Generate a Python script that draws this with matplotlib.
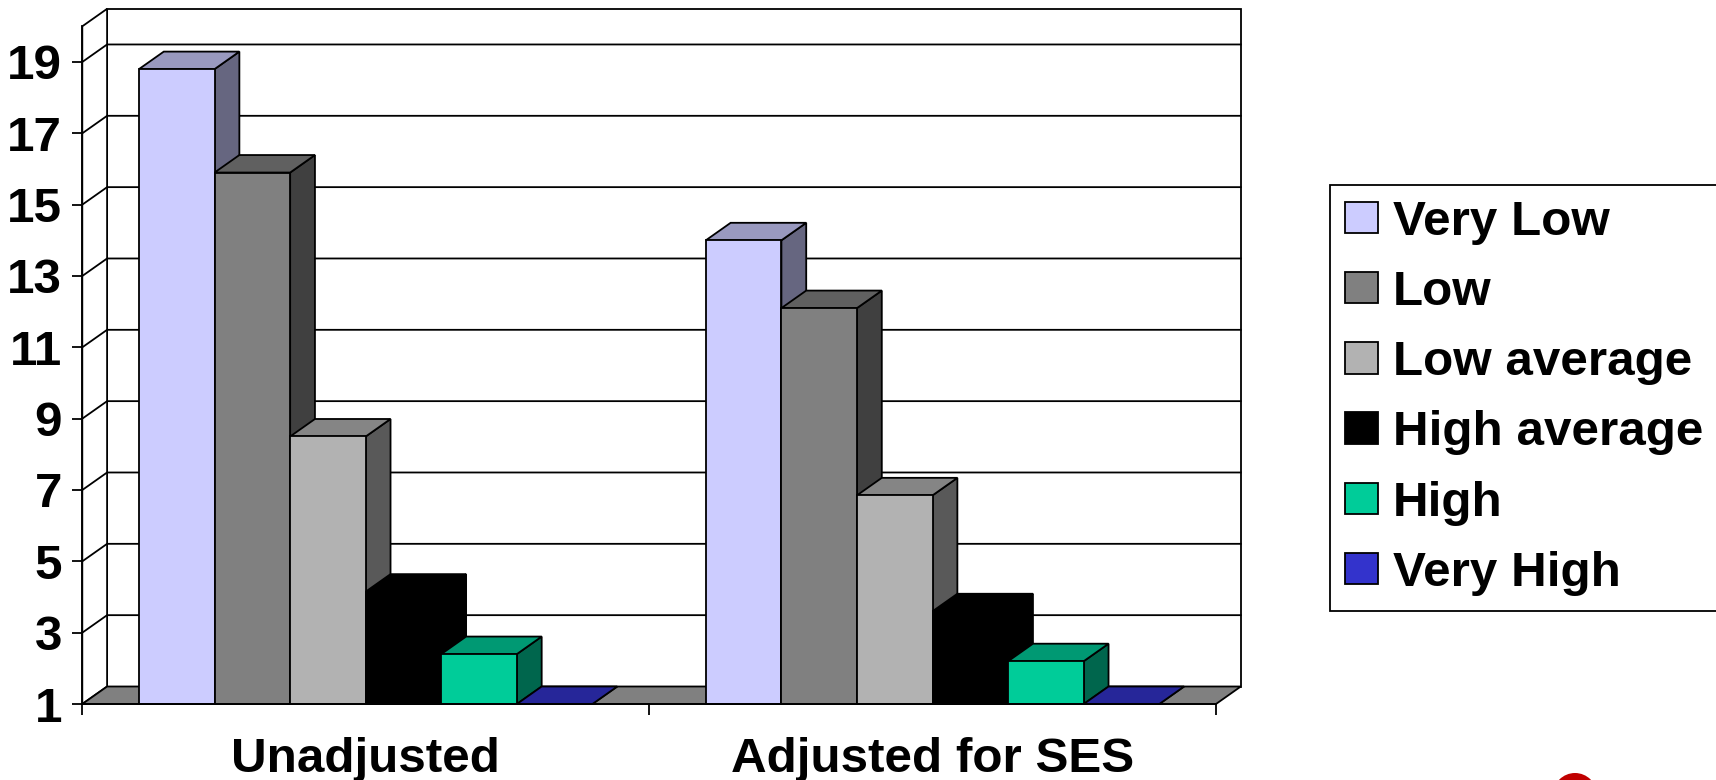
import matplotlib
matplotlib.use("Agg")
import matplotlib.pyplot as plt
from matplotlib.patches import Polygon, Patch, Circle
from matplotlib.transforms import IdentityTransform
from matplotlib.colors import to_rgb

# ---------------- data ----------------
categories = ["Unadjusted", "Adjusted for SES"]
series = ["Very Low", "Low", "Low average", "High average", "High", "Very High"]
very_low = [18.8, 14.0]
low = [15.9, 12.1]
low_average = [8.5, 6.85]
high_average = [4.15, 3.6]
high = [2.4, 2.2]
very_high = [1.0, 1.0]
y_ticks = [1, 3, 5, 7, 9, 11, 13, 15, 17, 19]
y_min, y_max = 1, 20

values = [very_low, low, low_average, high_average, high, very_high]
front_colors = ["#CCCCFF", "#808080", "#B2B2B2", "#000000", "#00CC99", "#3333CC"]

plt.rcParams['font.family'] = ['Liberation Sans', 'DejaVu Sans']
FS = 35.6
LW = 1.3


def shade(c, f):
    r, g, b = to_rgb(c)
    return (r * f, g * f, b * f)


W, H = 1716, 780
fig = plt.figure(figsize=(W / 100, H / 100), dpi=100)
ax_left, ax_right = 82.3, 1216.0
ax_bottom, ax_top = 704.0, 26.3
ax = fig.add_axes([ax_left / W, (H - ax_bottom) / H,
                   (ax_right - ax_left) / W, (ax_bottom - ax_top) / H])
ncat = len(categories)
ax.set_xlim(0, ncat)
ax.set_ylim(y_min, y_max)

# depth offset in data units
px_per_cat = (ax_right - ax_left) / ncat
px_per_val = (ax_bottom - ax_top) / (y_max - y_min)
DX = 24.8 / px_per_cat
DY = 17.5 / px_per_val

kw = dict(edgecolor="black", linewidth=LW, joinstyle="miter", clip_on=False)

# back wall
ax.add_patch(Polygon([(DX, y_min + DY), (ncat + DX, y_min + DY),
                      (ncat + DX, y_max + DY), (DX, y_max + DY)],
                     facecolor="white", zorder=1, **kw))
# left wall
ax.add_patch(Polygon([(0, y_min), (DX, y_min + DY), (DX, y_max + DY), (0, y_max)],
                     facecolor="white", zorder=1, **kw))
# gridlines
for v in y_ticks[1:]:
    ax.plot([0, DX, ncat + DX], [v, v + DY, v + DY], color="black",
            lw=LW, zorder=1.5, clip_on=False, solid_joinstyle="miter")
# floor
ax.add_patch(Polygon([(0, y_min), (ncat, y_min), (ncat + DX, y_min + DY),
                      (DX, y_min + DY)], facecolor="#808080", zorder=2, **kw))

# bars
nser = len(series)
bw = 1.0 / (nser + 1.5)
z = 3
for g in range(ncat):
    for i in range(nser):
        h = values[i][g]
        c = front_colors[i]
        x0 = g + 0.75 * bw + i * bw
        x1 = x0 + bw
        ax.add_patch(Polygon([(x1, y_min), (x1 + DX, y_min + DY), (x1 + DX, h + DY), (x1, h)],
                             facecolor=shade(c, 0.5), zorder=z, **kw))
        ax.add_patch(Polygon([(x0, h), (x1, h), (x1 + DX, h + DY), (x0 + DX, h + DY)],
                             facecolor=shade(c, 0.75), zorder=z, **kw))
        if h > y_min:
            ax.add_patch(Polygon([(x0, y_min), (x1, y_min), (x1, h), (x0, h)],
                                 facecolor=c, zorder=z, **kw))
        z += 0.01

# axes styling
for s in ["top", "right"]:
    ax.spines[s].set_visible(False)
for s in ["left", "bottom"]:
    ax.spines[s].set_linewidth(LW)
    ax.spines[s].set_zorder(10)
ax.set_facecolor("none")

ax.set_yticks(y_ticks)
ax.set_yticklabels([str(t) for t in y_ticks], fontsize=FS, fontweight="bold")
ax.tick_params(axis="y", length=7.5, width=LW, pad=7)

ax.set_xticks(range(ncat + 1))
ax.set_xticklabels([""] * (ncat + 1))
ax.set_xticks([g + 0.5 for g in range(ncat)], minor=True)
ax.set_xticklabels(categories, minor=True, fontsize=FS, fontweight="bold")
ax.tick_params(axis="x", which="major", length=8, width=LW)
ax.tick_params(axis="x", which="minor", length=0, pad=24)

# legend
handles = [Patch(facecolor=c, edgecolor="black", linewidth=LW) for c in front_colors]
leg = fig.legend(handles, series, loc="upper left",
                 bbox_to_anchor=(1330 / W, 1 - 185 / H), borderaxespad=0,
                 frameon=True, fancybox=False, framealpha=1, edgecolor="black",
                 prop=dict(family=["Liberation Sans", "DejaVu Sans"], weight="bold", size=FS),
                 handlelength=0.67, handleheight=0.6, handletextpad=0.3,
                 labelspacing=0.51, borderpad=0.3)
leg.get_frame().set_linewidth(LW)

# small red logo fragment at the bottom edge
fig.add_artist(Circle((1575, -15), 22, transform=IdentityTransform(),
                      facecolor="#C00000", edgecolor="none"))

fig.savefig("out.png", dpi=100)
